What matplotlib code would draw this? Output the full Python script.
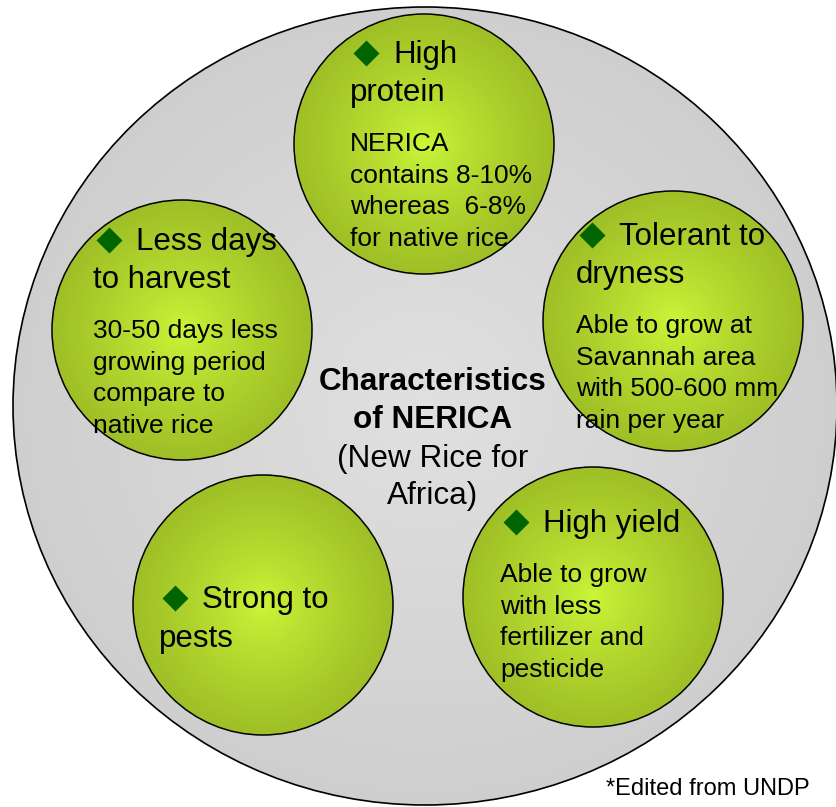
#!/usr/bin/env python3

import numpy as np
import matplotlib
matplotlib.use('Agg')
import matplotlib.pyplot as plt
from matplotlib.patches import Ellipse, Circle


plt.rcParams['font.family'] = ['Liberation Sans', 'DejaVu Sans']

# --- content -------------------------------------------------------------
title_bold = ['Characteristics', 'of NERICA']
title_plain = ['(New Rice for', 'Africa)']

headers = [
    ['High', 'protein'],
    ['Less days', 'to harvest'],
    ['Tolerant to', 'dryness'],
    ['High yield'],
    ['Strong to', 'pests'],
]
bodies = [
    ['NERICA', 'contains 8-10%', 'whereas  6-8%', 'for native rice'],
    ['30-50 days less', 'growing period', 'compare to', 'native rice'],
    ['Able to grow at', 'Savannah area', 'with 500-600 mm', 'rain per year'],
    ['Able to grow', 'with less', 'fertilizer and', 'pesticide'],
    [],
]
footnote = '*Edited from UNDP'

# --- layout (pixel coords, y down) ----------------------------------------
# circle centre x, y, text left, header baseline, body baseline
layout = [
    (424, 144, 350, 63, 151),
    (182, 330, 93, 250, 338),
    (673, 321, 576, 245, 333),
    (593, 597, 500, 532, 582),
    (263, 605, 159, 608, None),
]
R = 130
HEAD_STEP = 38.5
BODY_STEP = 31.7


def radial_fill(ax, patch, cx, cy, rx, ry, inner, outer, power, z):
    ys, xs = np.mgrid[cy - ry:cy + ry:300j, cx - rx:cx + rx:300j]
    d = np.clip(np.hypot((xs - cx) / rx, (ys - cy) / ry), 0, 1) ** power
    inner = np.array(inner)
    outer = np.array(outer)
    img = inner * (1 - d)[..., None] + outer * d[..., None]
    im = ax.imshow(img, extent=(cx - rx, cx + rx, cy + ry, cy - ry),
                   interpolation='bilinear', zorder=z)
    im.set_clip_path(patch)


def main():
    fig = plt.figure(figsize=(8.36, 8.07), dpi=100)
    ax = fig.add_axes([0, 0, 1, 1])

    # big grey disc
    big = Ellipse((425, 406), 824, 798, facecolor='none',
                  edgecolor='black', linewidth=1.2, zorder=2)
    ax.add_patch(big)
    radial_fill(ax, big, 425, 406, 412, 399,
                (0.88, 0.88, 0.88), (0.81, 0.81, 0.81), 1.0, 1)

    for (cx, cy, x0, hb, bb), head, body in zip(layout, headers, bodies):
        c = Circle((cx, cy), R, facecolor='none', edgecolor='black',
                   linewidth=1.1, zorder=4)
        ax.add_patch(c)
        radial_fill(ax, c, cx, cy, R, R,
                    (0.80, 0.97, 0.22), (0.62, 0.75, 0.15), 0.8, 3)

        ax.plot([x0 + 16], [hb - 10], marker='D', ms=13.5,
                color='#006400', mec='none', zorder=5)
        for i, line in enumerate(head):
            x = x0 + 43 if i == 0 else x0
            ax.text(x, hb + i * HEAD_STEP, line, fontsize=22.5,
                    ha='left', va='baseline', zorder=6)
        for i, line in enumerate(body):
            ax.text(x0, bb + i * BODY_STEP, line, fontsize=19,
                    ha='left', va='baseline', zorder=6)

    for i, line in enumerate(title_bold):
        ax.text(433, 390 + i * 38.5, line, fontsize=22.7, fontweight='bold',
                ha='center', va='baseline', zorder=6)
    for i, line in enumerate(title_plain):
        ax.text(433, 467 + i * 37, line, fontsize=22.7,
                ha='center', va='baseline', zorder=6)

    ax.text(606, 795, footnote, fontsize=17, ha='left', va='baseline')

    ax.set_xlim(0, 836)
    ax.set_ylim(807, 0)
    ax.set_aspect('auto')
    ax.axis('off')
    fig.savefig('out.png', dpi=100)


if __name__ == '__main__':
    main()
